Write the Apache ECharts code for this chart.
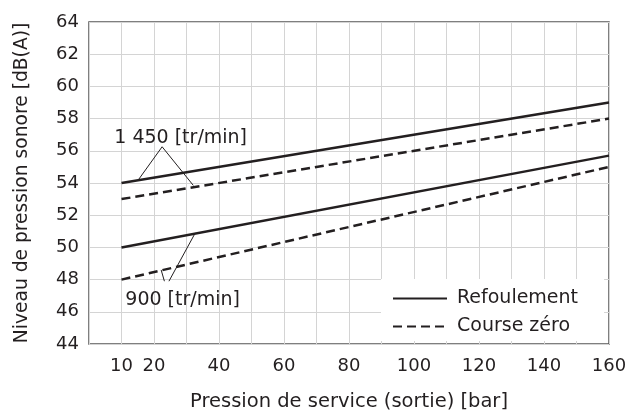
<!DOCTYPE html>
<html>
<head>
<meta charset="utf-8">
<script src="https://cdn.jsdelivr.net/npm/echarts@6/dist/echarts.min.js"></script>
<style>
html,body{margin:0;padding:0;background:#fff;}
#chart{width:630px;height:414px;}
</style>
</head>
<body>
<div id="chart"></div>
<script>
// Pressure (bar) endpoints of each curve
const pressure = [10, 160];
// Sound pressure level dB(A)
const refoulement1450 = [54, 59];
const courseZero1450 = [53, 58];
const refoulement900 = [50, 55.7];
const courseZero900 = [48, 55];
// x tick labels shown
const xTickLabels = [10, 20, 40, 60, 80, 100, 120, 140, 160];
// Annotation leader lines (data coords) and labels
const lead1450 = [[[22.5, 56.25], [15.2, 54.2]], [[22.5, 56.25], [32.1, 53.85]]];
const lead900 = [[[23.2, 47.9], [22.2, 48.6]], [[24.6, 47.9], [32.7, 50.9]]];
const label1450 = {text: '1 450 [tr/min]', at: [28.2, 56.8]};
const label900 = {text: '900 [tr/min]', at: [28.8, 46.72]};

const FONT = 'DejaVu Sans';
const C = '#231f20';
const toXY = arr => pressure.map((p, i) => [p, arr[i]]);
const DASH = [9, 5];

const series = [
  {name: 'Refoulement', type: 'line', data: toXY(refoulement1450), symbol: 'none', lineStyle: {color: C, width: 2.5, type: 'solid'}, itemStyle: {color: C}},
  {name: 'Course zéro', type: 'line', data: toXY(courseZero1450), symbol: 'none', lineStyle: {color: C, width: 2.5, type: DASH}, itemStyle: {color: C}},
  {name: 'Refoulement', type: 'line', data: toXY(refoulement900), symbol: 'none', lineStyle: {color: C, width: 2.5, type: 'solid'}, itemStyle: {color: C}},
  {name: 'Course zéro', type: 'line', data: toXY(courseZero900), symbol: 'none', lineStyle: {color: C, width: 2.5, type: DASH}, itemStyle: {color: C}}
];
[...lead1450, ...lead900].forEach(seg => {
  series.push({type: 'line', data: seg, symbol: 'none', silent: true, lineStyle: {color: C, width: 1}, z: 3});
});
[label1450, label900].forEach(l => {
  series.push({type: 'scatter', data: [l.at], symbolSize: 0, silent: true, itemStyle: {opacity: 1},
    label: {show: true, position: 'inside', formatter: l.text, color: C, fontFamily: FONT, fontSize: 19}});
});

const chart = echarts.init(document.getElementById('chart'), null, {renderer: 'canvas'});
chart.setOption({
  animation: false,
  backgroundColor: '#fff',
  grid: {left: 89, top: 22, right: 21, bottom: 70, containLabel: false, outerBoundsMode: 'none',
    show: true, borderColor: '#555', borderWidth: 1.5, backgroundColor: 'transparent'},
  xAxis: {
    type: 'value', min: 0, max: 160, interval: 10,
    name: 'Pression de service (sortie) [bar]', nameLocation: 'middle', nameGap: 48,
    nameTextStyle: {fontFamily: FONT, fontSize: 19.5, color: C},
    axisLine: {show: false}, axisTick: {show: false},
    axisLabel: {fontFamily: FONT, fontSize: 18, color: C, margin: 13,
      formatter: v => xTickLabels.includes(v) ? String(v) : ''},
    splitLine: {show: true, lineStyle: {color: '#d4d4d4', width: 1}}
  },
  yAxis: {
    type: 'value', min: 44, max: 64, interval: 2,
    name: 'Niveau de pression sonore [dB(A)]', nameLocation: 'middle', nameGap: 57,
    nameTextStyle: {fontFamily: FONT, fontSize: 18.7, color: C},
    axisLine: {show: false}, axisTick: {show: false},
    axisLabel: {fontFamily: FONT, fontSize: 18, color: C, margin: 10},
    splitLine: {show: true, lineStyle: {color: '#d4d4d4', width: 1}}
  },
  legend: {
    data: ['Refoulement', 'Course zéro'],
    orient: 'vertical', left: 381, top: 279,
    backgroundColor: '#fff', padding: [10, 26, 5, 11], itemGap: 9,
    itemWidth: 54, itemHeight: 14,
    itemStyle: {opacity: 0},
    textStyle: {fontFamily: FONT, fontSize: 19, color: C, padding: [0, 0, 0, 5]},
    selectedMode: false
  },
  series: series
});
</script>
</body>
</html>
